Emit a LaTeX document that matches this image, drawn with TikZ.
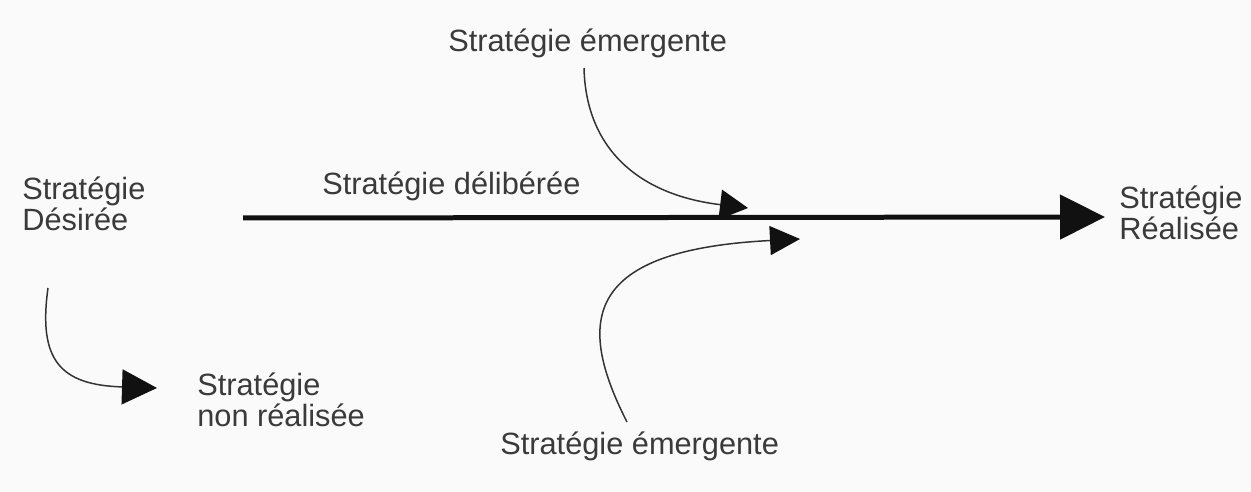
\documentclass[tikz,border=0pt]{standalone}
\usepackage{fontspec}
\setmainfont{Liberation Sans}
\usetikzlibrary{arrows.meta}
\definecolor{txt}{HTML}{3A3A3A}
\definecolor{paper}{HTML}{FAFAFA}
\definecolor{ink}{HTML}{111111}
\definecolor{curve}{HTML}{333333}
\begin{document}
\begin{tikzpicture}[x=0.02cm,y=-0.02cm,
  lbl/.style={inner sep=0pt, text=txt, align=left, anchor=base west,
    font=\fontsize{17.5}{18.2}\selectfont},
  thin arrow/.style={draw=curve, line width=0.85pt},
  main arrow/.style={draw=ink, line width=0.1cm, -{Triangle[length=0.9cm,width=0.88cm,fill=ink]}}
]
\fill[paper] (0,0) rectangle (1251,492);
\useasboundingbox (0,0) rectangle (1251,492);

% labels (base = baseline of last line)
\node[lbl] (desired) at (22,231) {Stratégie\\Désirée};
\node[lbl] (realized) at (1119,240) {Stratégie\\Réalisée};
\node[lbl] (deliberate) at (322,195) {Stratégie délibérée};
\node[lbl] (emergtop) at (448,52) {Stratégie émergente};
\node[lbl] (emergbot) at (500,455) {Stratégie émergente};
\node[lbl] (unrealized) at (197,427) {Stratégie\\non réalisée};

% anchor points
\coordinate (m1) at (243,218);
\coordinate (m2) at (1105,217);
\coordinate (t1) at (584,68);
\coordinate (t2) at (748,208);
\coordinate (b1) at (627,422);
\coordinate (b2) at (800,239);
\coordinate (l1) at (48,288);
\coordinate (l2) at (157,388);

% main deliberate strategy arrow
\draw[main arrow] (m1) -- (m2);

% emergent strategies
\draw[thin arrow, -{Triangle[length=0.56cm,width=0.6cm,color=ink]}]
  (t1) .. controls (586,150) and (640,195) .. (t2);
\draw[thin arrow, -{Triangle[length=0.6cm,width=0.58cm,color=ink]}]
  (b1) .. controls (575,320) and (585,250) .. (b2);

% unrealized strategy
\draw[thin arrow, -{Triangle[length=0.7cm,width=0.7cm,color=ink]}]
  (l1) .. controls (38,360) and (60,385) .. (l2);
\end{tikzpicture}
\end{document}
